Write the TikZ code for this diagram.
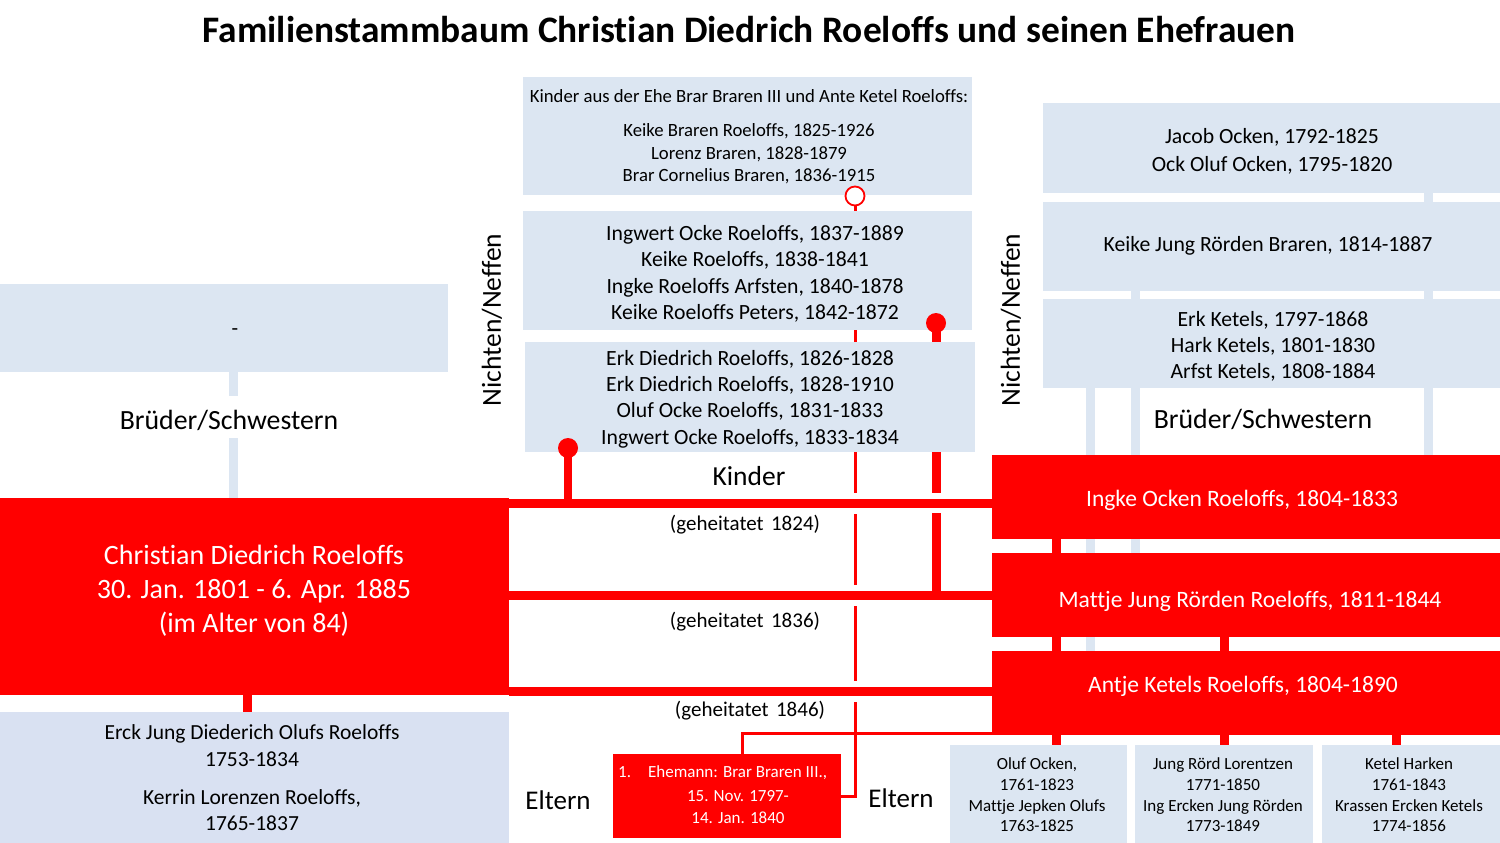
\documentclass[tikz,border=0pt]{standalone}
\usepackage{fontspec}
\setmainfont{Carlito}[Ligatures=NoCommon]
\usetikzlibrary{calc}
\definecolor{lblue}{HTML}{DCE6F2}
\definecolor{pblue}{HTML}{D9E1F2}
\definecolor{myred}{HTML}{FF0000}
\pgfdeclarelayer{bg}
\pgfsetlayers{bg,main}
\newcommand\setfs[2]{\fontsize{#1}{#2}\selectfont}
\begin{document}
\begin{tikzpicture}[x=1pt,y=-1pt,
  bluebox/.style={fill=lblue,draw=none,inner sep=0pt,outer sep=0pt},
  parbox/.style={fill=pblue,draw=none,inner sep=0pt,outer sep=0pt},
  redbox/.style={fill=myred,draw=none,inner sep=0pt,outer sep=0pt},
  txt/.style={inner sep=0pt,align=center,yshift=-1pt},
  wtxt/.style={inner sep=0pt,align=center,text=white,yshift=-1pt},
  redline/.style={draw=myred,line width=9pt,line cap=butt},
  redthin/.style={draw=myred,line width=3pt,line cap=butt},
  blueline/.style={draw=lblue,line width=9pt,line cap=butt},
  dotfull/.style={circle,fill=myred,minimum size=20pt,inner sep=0pt},
  dotopen/.style={circle,draw=myred,fill=white,line width=1.8pt,minimum size=19pt,inner sep=0pt}]
\useasboundingbox (0,0) rectangle (1500,843);
\begin{pgfonlayer}{bg}
  \fill[white] (0,0) rectangle (1500,843);
\end{pgfonlayer}

% ---------- title
\node[txt,font=\bfseries\setfs{37.4}{44}] (title) at (749,29) {Familienstammbaum Christian Diedrich Roeloffs und seinen Ehefrauen};

% ---------- boxes
\node[bluebox,minimum width=448pt,minimum height=88pt] (sib) at (224,328) {};
\node[redbox,minimum width=509pt,minimum height=197pt] (main) at (254.5,596.5) {};
\node[parbox,minimum width=509pt,minimum height=131pt] (parents) at (254.5,777.5) {};
\node[bluebox,minimum width=449pt,minimum height=118pt] (kidsA) at (747.5,136) {};
\node[bluebox,minimum width=449pt,minimum height=119pt] (kidsB) at (747.5,270.5) {};
\node[bluebox,minimum width=450pt,minimum height=110pt] (kidsC) at (750,397) {};
\node[redbox,minimum width=228pt,minimum height=84pt] (ehemann) at (727,796) {};
\node[bluebox,minimum width=457pt,minimum height=90pt] (jacob) at (1271.5,148) {};
\node[bluebox,minimum width=457pt,minimum height=89pt] (keike) at (1271.5,246.5) {};
\node[bluebox,minimum width=457pt,minimum height=89pt] (erk) at (1271.5,343.5) {};
\node[redbox,minimum width=508pt,minimum height=84pt] (ingke) at (1246,497) {};
\node[redbox,minimum width=508pt,minimum height=84pt] (mattje) at (1246,595) {};
\node[redbox,minimum width=508pt,minimum height=84pt] (antje) at (1246,693) {};
\node[bluebox,minimum width=177pt,minimum height=98pt] (oluf) at (1038.5,794) {};
\node[bluebox,minimum width=178pt,minimum height=98pt] (jung) at (1224,794) {};
\node[bluebox,minimum width=178pt,minimum height=98pt] (ketel) at (1411,794) {};

% ---------- circles
\node[dotfull] (c1) at (568,448) {};
\node[dotfull] (c2) at (936,323) {};
\node[dotopen] (c3) at (855,196) {};

% ---------- marriage coordinates
\coordinate (m1) at ($(main.north east)+(0,5)$);
\coordinate (m2) at ($(main.east)+(0,-1)$);
\coordinate (m3) at ($(main.south east)+(0,-4)$);

% ---------- connectors (background)
\begin{pgfonlayer}{bg}
  % blue sibling lines
  \draw[blueline] ([xshift=9pt]sib.south) -- ([xshift=9pt]sib.south |- main.north);
  \fill[white] (200,396) rectangle (260,438);
  \draw[blueline] ([xshift=156.5pt]jacob.south) -- ([xshift=156.5pt]jacob.south |- ingke.north);
  \draw[blueline] ([xshift=-136.5pt]keike.south) -- ([xshift=-136.5pt]keike.south |- mattje.north);
  \draw[blueline] ([xshift=-181.5pt]erk.south) -- ([xshift=-181.5pt]erk.south |- antje.north);
  % red parent lines
  \draw[redline] ([xshift=-7pt]main.south) -- ([xshift=-7pt]main.south |- parents.north);
  \draw[redline] ([xshift=-190pt]ingke.south) -- ([xshift=-190pt]ingke.south |- oluf.north);
  \draw[redline] (jung.north) -- (jung.north |- mattje.south);
  \draw[redline] ([xshift=-15pt]ketel.north) -- ([xshift=-15pt]ketel.north |- antje.south);
  % children lines
  \draw[redthin] (c3.center) -- (c3 |- ehemann.east) -- (ehemann.east);
  \draw[redthin] ([yshift=2pt]antje.south west) -- ([yshift=2pt,xshift=15pt]antje.south west -| ehemann.north) -- ([xshift=15pt]ehemann.north);
  \draw[redline,line width=8.5pt] (c1.center) -- (c1 |- m1);
  \draw[redline] (c2.center) -- (c2 |- m2);
  % gaps where lines cross
  \foreach \m in {m1,m2,m3}
    \fill[white] ($(c3 |- \m)+(-5,-10.5)$) rectangle ($(c3 |- \m)+(5,10.5)$);
  \fill[white] ($(c2 |- m1)+(-7,-10)$) rectangle ($(c2 |- m1)+(7,10)$);
  % marriage lines
  \draw[redline] (m1) -- (m1 -| ingke.west);
  \draw[redline] (m2) -- (m2 -| mattje.west);
  \draw[redline] (m3) -- (m3 -| antje.west);
\end{pgfonlayer}

% ---------- texts
\node[txt,font=\setfs{21.5}{26}] at (235,331) {-};
\node[txt,font=\setfs{27.8}{32}] (lsib) at (229,419) {Brüder/Schwestern};
\node[wtxt,font=\setfs{28}{34}] at (254,590) {Christian Diedrich Roeloffs\\30. Jan. 1801 - 6. Apr. 1885\\(im Alter von 84)};
\node[txt,font=\setfs{21.5}{27}] at (252,745) {Erck Jung Diederich Olufs Roeloffs\\1753-1834};
\node[txt,font=\setfs{21.5}{26}] at (252,809) {Kerrin Lorenzen Roeloffs,\\1765-1837};

\node[txt,font=\setfs{18.7}{22.5}] at (749,95) {Kinder aus der Ehe Brar Braren III und Ante Ketel Roeloffs:};
\node[txt,font=\setfs{18.7}{22.5}] at (749,153) {Keike Braren Roeloffs, 1825-1926\\Lorenz Braren, 1828-1879\\Brar Cornelius Braren, 1836-1915};
\node[txt,font=\setfs{21.7}{26.3}] at (755,273) {Ingwert Ocke Roeloffs, 1837-1889\\Keike Roeloffs, 1838-1841\\Ingke Roeloffs Arfsten, 1840-1878\\Keike Roeloffs Peters, 1842-1872};
\node[txt,font=\setfs{21.7}{26.3}] at (750,398) {Erk Diedrich Roeloffs, 1826-1828\\Erk Diedrich Roeloffs, 1828-1910\\Oluf Ocke Roeloffs, 1831-1833\\Ingwert Ocke Roeloffs, 1833-1834};
\node[txt,font=\setfs{27.5}{32}] at (749,475) {Kinder};
\node[txt,rotate=90,font=\setfs{27.5}{32}] at (492,319) {Nichten/Neffen};
\node[txt,rotate=90,font=\setfs{27.5}{32}] at (1011,319) {Nichten/Neffen};

\node[txt,font=\setfs{21}{25}] at (745,524) {(geheitatet\hspace{0.35em}1824)};
\node[txt,font=\setfs{21}{25}] at (745,621) {(geheitatet\hspace{0.35em}1836)};
\node[txt,font=\setfs{21}{25}] at (750,710) {(geheitatet\hspace{0.35em}1846)};

\node[txt,font=\setfs{27}{32}] at (558,799) {Eltern};
\node[txt,font=\setfs{27}{32}] at (901,797) {Eltern};
\node[wtxt,anchor=west,font=\setfs{17}{22.5}] at (618,772) {1.\hspace{17pt}Ehemann: Brar Braren III.,};
\node[wtxt,font=\setfs{17}{22.5}] at (738,806) {15. Nov. 1797-\\14. Jan. 1840};

\node[txt,font=\setfs{21.7}{28}] at (1272,150) {Jacob Ocken, 1792-1825\\Ock Oluf Ocken, 1795-1820};
\node[txt,font=\setfs{21.7}{26}] at (1268,245) {Keike Jung Rörden Braren, 1814-1887};
\node[txt,font=\setfs{21.7}{26}] at (1273,345) {Erk Ketels, 1797-1868\\Hark Ketels, 1801-1830\\Arfst Ketels, 1808-1884};
\node[txt,font=\setfs{27.8}{32}] at (1263,418) {Brüder/Schwestern};

\node[wtxt,font=\setfs{23.5}{28}] at (1242,499) {Ingke Ocken Roeloffs, 1804-1833};
\node[wtxt,font=\setfs{23.5}{28}] at (1250,600) {Mattje Jung Rörden Roeloffs, 1811-1844};
\node[wtxt,font=\setfs{23.5}{28}] at (1243,685) {Antje Ketels Roeloffs, 1804-1890};

\node[txt,font=\setfs{17}{20.7}] at (1037,794) {Oluf Ocken,\\1761-1823\\Mattje Jepken Olufs\\1763-1825};
\node[txt,font=\setfs{17}{20.7}] at (1223,794) {Jung Rörd Lorentzen\\1771-1850\\Ing Ercken Jung Rörden\\1773-1849};
\node[txt,font=\setfs{17}{20.7}] at (1409,794) {Ketel Harken\\1761-1843\\Krassen Ercken Ketels\\1774-1856};
\end{tikzpicture}
\end{document}
